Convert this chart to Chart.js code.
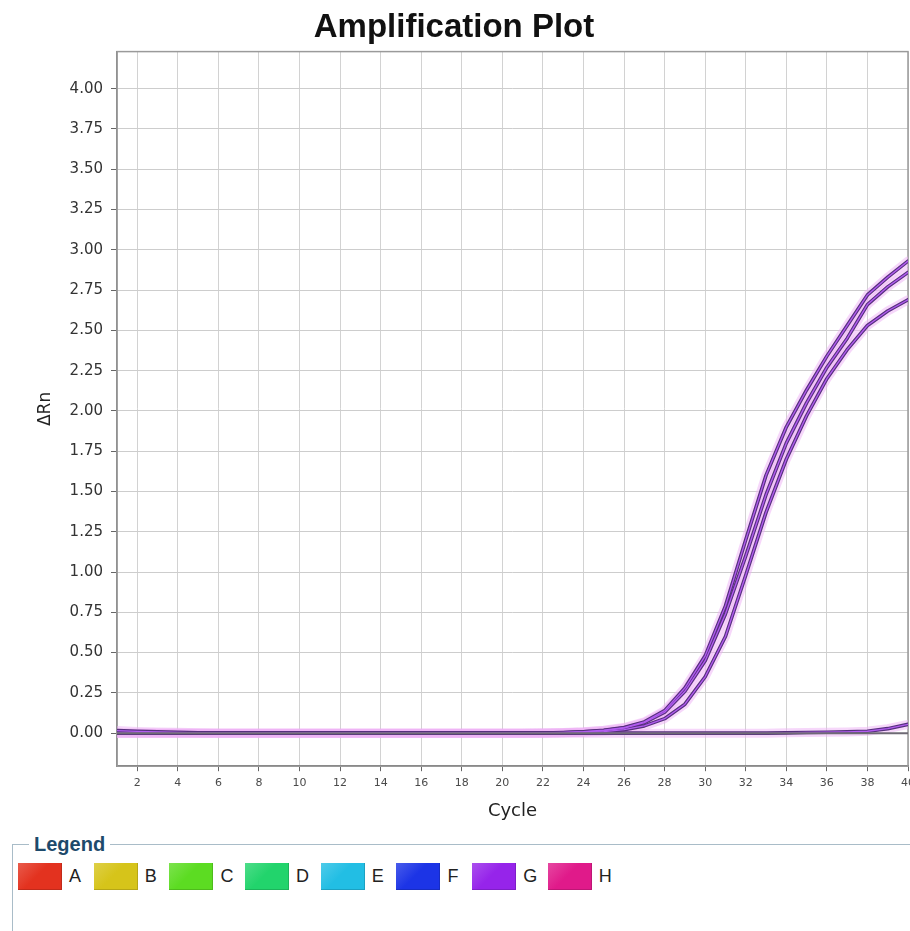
<!DOCTYPE html>
<html>
<head>
<meta charset="utf-8">
<title>Amplification Plot</title>
<script src="https://cdn.jsdelivr.net/npm/chart.js@4.4.1/dist/chart.umd.min.js"></script>
<style>
  body { margin: 0; background: #fff; font-family: "Liberation Sans", Arial, sans-serif; }
  #wrap { position: relative; width: 910px; height: 931px; overflow: hidden; background: #fff; }
  #amp-chart { position: absolute; left: 0; top: 0; }
  .legend-box {
    position: absolute; left: 12px; top: 833px; width: 960px; height: 140px;
    margin: 0; padding: 7px 0 0 4px; border: 1px solid #a9bcc8; box-sizing: border-box;
  }
  .legend-box legend {
    font-weight: bold; font-size: 20px; color: #1d4a6b; padding: 0 5px; margin-left: 12px;
  }
  .legend-row { display: flex; margin-left: 1px; }
  .legend-item { display: flex; align-items: center; width: 75.7px; }
  .swatch { width: 44px; height: 27px; margin-right: 7px; }
  .legend-item span { font-size: 18px; color: #222; }
</style>
</head>
<body>
<div id="wrap">
  <canvas id="amp-chart" width="910" height="824"></canvas>
  <fieldset class="legend-box">
    <legend>Legend</legend>
    <div class="legend-row" id="legend-row"></div>
  </fieldset>
</div>
<script>
// Amplification data (ΔRn per cycle)

const cycles = [1, 2, 3, 4, 5, 6, 7, 8, 9, 10, 11, 12, 13, 14, 15, 16, 17, 18, 19, 20,
  21, 22, 23, 24, 25, 26, 27, 28, 29, 30, 31, 32, 33, 34, 35, 36, 37, 38, 39, 40];

// three wells that amplify
const curveG1 = [0.016, 0.011, 0.008, 0.005, 0.002, 0, 0, 0, 0, 0, 0, 0, 0, 0, 0, 0, 0, 0, 0, 0,
  0, 0.001, 0.004, 0.009, 0.018, 0.035, 0.07, 0.14, 0.28, 0.48, 0.79, 1.2, 1.6, 1.9, 2.13, 2.34, 2.53, 2.72, 2.83, 2.93];
const curveG2 = [0, 0, 0, 0, 0, 0, 0, 0, 0, 0, 0, 0, 0, 0, 0, 0, 0, 0, 0, 0,
  0, 0.001, 0.003, 0.008, 0.016, 0.032, 0.065, 0.13, 0.26, 0.45, 0.74, 1.1, 1.48, 1.8, 2.05, 2.27, 2.45, 2.66, 2.77, 2.86];
const curveG3 = [0, 0, 0, 0, 0, 0, 0, 0, 0, 0, 0, 0, 0, 0, 0, 0, 0, 0, 0, 0,
  0, 0, 0.002, 0.005, 0.01, 0.022, 0.045, 0.09, 0.18, 0.35, 0.6, 0.98, 1.37, 1.7, 1.97, 2.2, 2.38, 2.53, 2.62, 2.69];
// late riser
const curveG4 = [0, 0, 0, 0, 0, 0, 0, 0, 0, 0, 0, 0, 0, 0, 0, 0, 0, 0, 0, 0,
  0, 0, 0, 0, 0, 0, 0, 0, 0, 0, 0, 0, 0, 0.002, 0.004, 0.006, 0.008, 0.012, 0.028, 0.055];
// flat wells
const baseline = [0, 0, 0, 0, 0, 0, 0, 0, 0, 0, 0, 0, 0, 0, 0, 0, 0, 0, 0, 0,
  0, 0, 0, 0, 0, 0, 0, 0, 0, 0, 0, 0, 0, 0, 0, 0, 0, 0, 0, 0];

const yTicks = [0, 0.25, 0.5, 0.75, 1, 1.25, 1.5, 1.75, 2, 2.25, 2.5, 2.75, 3, 3.25, 3.5, 3.75, 4];
const xTicks = [2, 4, 6, 8, 10, 12, 14, 16, 18, 20, 22, 24, 26, 28, 30, 32, 34, 36, 38, 40];

const wells = ["A", "B", "C", "D", "E", "F", "G", "H"];
const wellColors = ["#e3321f", "#d6c41a", "#5cdc22", "#22d46c", "#22bee4", "#1c34e6", "#9624ea", "#e01a8a"];

// build legend
const legendRow = document.getElementById("legend-row");
wells.forEach((w, i) => {
  const c = wellColors[i];
  legendRow.innerHTML += `
    <div class="legend-item">
      <div class="swatch" style="background: linear-gradient(135deg, ${c}cc 0%, ${c} 45%, ${c} 100%); box-shadow: inset -1px -1px 0 rgba(0,0,0,0.15);"></div>
      <span>${w}</span>
    </div>`;
});

function toPoints(values) {
  return cycles.map((c, i) => ({ x: c, y: values[i] }));
}

// each curve is drawn as halo + dark outline + bright core
const datasets = [];
datasets.push({ data: toPoints(baseline), borderColor: "#6e6a74", borderWidth: 2, order: 0 });
[curveG1, curveG2, curveG3, curveG4].forEach((vals) => {
  const pts = toPoints(vals);
  datasets.push({ data: pts, borderColor: "#b25cf0", borderWidth: 1.3, order: 1 });
  datasets.push({ data: pts, borderColor: "#57307e", borderWidth: 3.6, order: 2 });
  datasets.push({ data: pts, borderColor: "rgba(238,175,246,0.5)", borderWidth: 9, order: 3 });
});

// frame round the plot area
const framePlugin = {
  id: "frame",
  beforeDatasetsDraw(chart) {
    const { ctx, chartArea: a } = chart;
    ctx.save();
    ctx.strokeStyle = "#9a9a9a";
    ctx.lineWidth = 1.5;
    ctx.strokeRect(a.left, a.top, a.right - a.left, a.bottom - a.top);
    ctx.restore();
  },
};

const tickFont = { family: "DejaVu Sans", size: 15 };

new Chart(document.getElementById("amp-chart").getContext("2d"), {
  type: "line",
  data: { datasets: datasets },
  options: {
    responsive: false,
    animation: false,
    layout: { padding: { left: 0, right: 2, top: 0, bottom: 0 } },
    elements: {
      point: { radius: 0 },
      line: { tension: 0, fill: false, borderCapStyle: "round", borderJoinStyle: "round" },
    },
    plugins: {
      legend: { display: false },
      tooltip: { enabled: false },
      title: {
        display: true,
        text: "Amplification Plot",
        color: "#111",
        font: { family: "Liberation Sans", size: 33, weight: "bold" },
        padding: { top: 8, bottom: 4 },
      },
    },
    scales: {
      x: {
        type: "linear",
        min: 1,
        max: 40,
        afterBuildTicks: (scale) => {
          scale.ticks = xTicks.map((v) => ({ value: v }));
        },
        afterFit: (scale) => {
          // let the last label run off the edge, like the original
          scale.paddingLeft = 0;
          scale.paddingRight = 0;
        },
        ticks: {
          font: { family: "DejaVu Sans", size: 11 },
          color: "#4a4a4a",
          padding: 5,
          maxRotation: 0,
          callback: (v) => v,
        },
        grid: {
          color: "#d2d2d2",
          borderDash: [2, 2],
          tickColor: "#666",
          tickBorderDash: [],
          tickLength: 5,
        },
        border: { color: "#777", width: 1.5 },
        title: {
          display: true,
          text: "Cycle",
          color: "#222",
          font: { family: "DejaVu Sans", size: 18 },
          padding: { top: 6, bottom: 2 },
        },
      },
      y: {
        min: -0.205,
        max: 4.23,
        afterBuildTicks: (scale) => {
          scale.ticks = yTicks.map((v) => ({ value: v }));
        },
        afterFit: (scale) => {
          scale.width = 117;
        },
        ticks: {
          font: tickFont,
          color: "#333",
          padding: 8,
          callback: (v) => Number(v).toFixed(2),
        },
        grid: {
          color: "#cdcdcd",
          borderDash: [2, 3],
          tickColor: "#666",
          tickBorderDash: [],
          tickLength: 6,
        },
        border: { color: "#777", width: 1.5 },
        title: {
          display: true,
          text: "ΔRn",
          color: "#222",
          font: { family: "DejaVu Sans", size: 17 },
          padding: { top: 35, bottom: 0 },
        },
      },
    },
  },
  plugins: [framePlugin],
});
</script>
</body>
</html>
